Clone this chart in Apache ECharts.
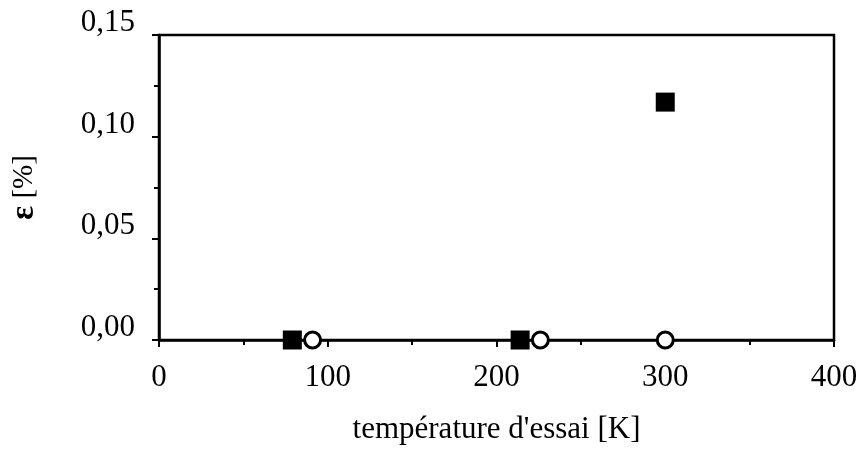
<!DOCTYPE html>
<html>
<head>
<meta charset="utf-8">
<script src="https://cdn.jsdelivr.net/npm/echarts@6/dist/echarts.min.js"></script>
<style>html,body{margin:0;padding:0;background:#fff;}#c{width:861px;height:450px;}</style>
</head>
<body>
<div id="c"></div>
<script>
// Data
var filledSquaresX = [79, 214, 300];
var filledSquaresY = [0, 0, 0.117];
var openCirclesX = [91, 226, 300];
var openCirclesY = [0, 0, 0];
var xTicks = [0, 100, 200, 300, 400];
var yTicks = [0, 0.05, 0.10, 0.15];
var xTitle = "température d'essai [K]";
var yTitle = "ε [%]";

var FONT = "Liberation Serif";
var chart = echarts.init(document.getElementById('c'));
function pairs(xs, ys){ return xs.map(function(x,i){ return [x, ys[i]]; }); }

chart.setOption({
  animation: false,
  backgroundColor: '#fff',
  grid: { left: 155, right: 27, top: 35, bottom: 110, show: true, borderColor: '#000', borderWidth: 2.5, backgroundColor: 'transparent' },
  xAxis: {
    type: 'value', min: xTicks[0], max: xTicks[xTicks.length-1], interval: 100,
    name: xTitle, nameLocation: 'middle', nameGap: 74,
    nameTextStyle: { fontFamily: FONT, fontSize: 31, color: '#000' },
    axisLine: { show: true, onZero: false, lineStyle: { color: '#000', width: 2.5 } },
    axisTick: { show: true, inside: false, length: 7, lineStyle: { color: '#000', width: 2 } },
    minorTick: { show: true, splitNumber: 2, length: 5, lineStyle: { color: '#000', width: 2 } },
    splitLine: { show: false },
    axisLabel: { fontFamily: FONT, fontSize: 31, color: '#000', margin: 22 }
  },
  yAxis: {
    type: 'value', min: yTicks[0], max: yTicks[yTicks.length-1], interval: 0.05,
    name: yTitle.replace('ε', '{b|ε}'), nameLocation: 'middle', nameGap: 118, nameRotate: 90,
    nameTextStyle: { fontFamily: FONT, fontSize: 29, color: '#000', padding: [0, 0, 0, 0],
      rich: { b: { fontFamily: FONT, fontSize: 33, fontWeight: 'bold', color: '#000' } } },
    axisLine: { show: true, onZero: false, lineStyle: { color: '#000', width: 2.5 } },
    axisTick: { show: true, inside: false, length: 7, lineStyle: { color: '#000', width: 2 } },
    minorTick: { show: true, splitNumber: 2, length: 5, lineStyle: { color: '#000', width: 2 } },
    splitLine: { show: false },
    axisLabel: { fontFamily: FONT, fontSize: 31, color: '#000', margin: 24, verticalAlign: 'bottom', lineHeight: 24,
      formatter: function(v){ return v.toFixed(2).replace('.', ','); } }
  },
  series: [
    { type: 'scatter', data: pairs(filledSquaresX, filledSquaresY), symbol: 'rect', symbolSize: 19,
      itemStyle: { color: '#000', opacity: 1 }, z: 3 },
    { type: 'scatter', data: pairs(openCirclesX, openCirclesY), symbol: 'circle', symbolSize: 16,
      itemStyle: { color: '#fff', borderColor: '#000', borderWidth: 3, opacity: 1 }, z: 4 }
  ]
});
</script>
</body>
</html>
